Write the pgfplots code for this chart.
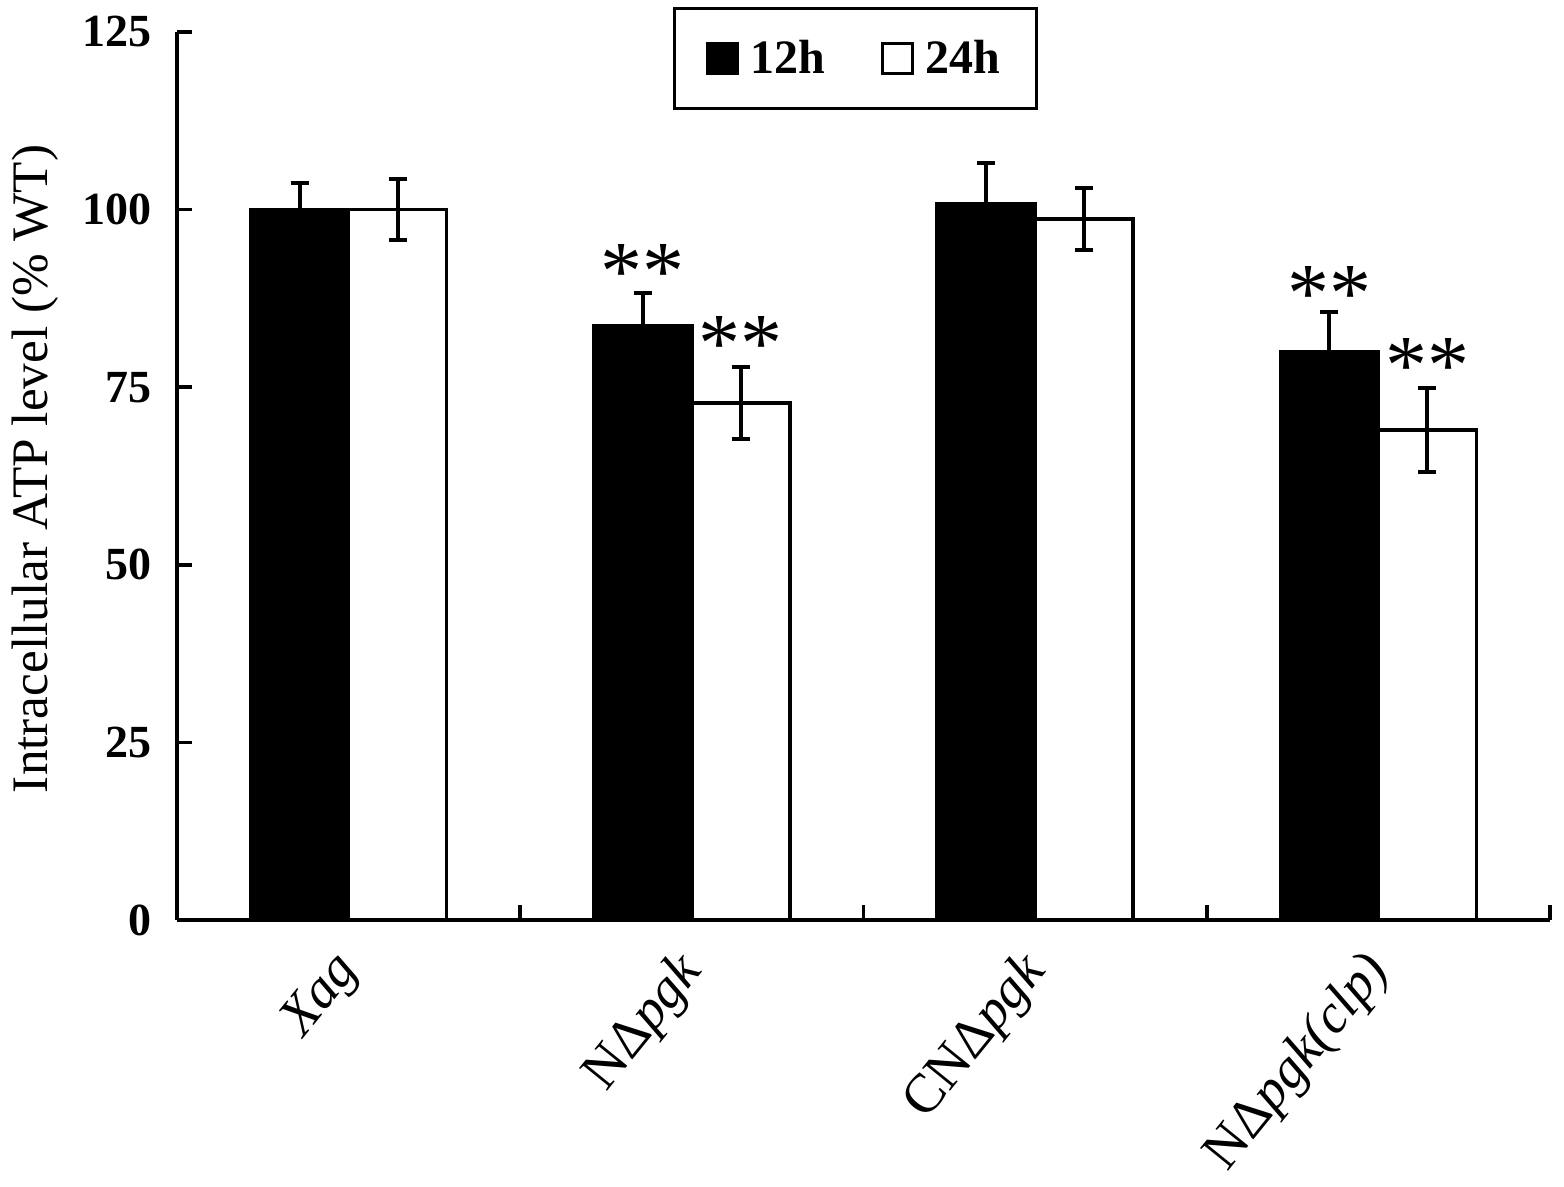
\documentclass[border=0pt]{standalone}
\usepackage{fontspec}
\setmainfont{Liberation Serif}
\usepackage{pgfplots}
\usepackage{pgfplotstable}
\pgfplotsset{compat=1.18}
\pgfplotstableread{
x y e
0.5 100 3.7
1.5 83.6 4.7
2.5 100.8 5.8
3.5 80.0 5.6
}\twelve
\pgfplotstableread{
x y e
0.5 100 4.35
1.5 72.8 5.1
2.5 98.7 4.35
3.5 69.0 5.9
}\twentyfour
\begin{document}
\begin{tikzpicture}
\path[use as bounding box] (-88.5pt,-133.5pt) rectangle (693.5pt,460pt);
\begin{axis}[
  at={(0,0)}, anchor=south west,
  scale only axis, width=686.5pt, height=444pt,
  xmin=0, xmax=4, ymin=0, ymax=125,
  axis x line*=bottom, axis y line*=left,
  axis line style={line width=1.8pt},
  ytick={0,25,50,75,100,125},
  xtick={1,2,3,4}, xticklabels={},
  extra x ticks={0.5,1.5,2.5,3.5},
  extra x tick labels={\textit{Xag}, NΔ\textit{pgk}, CNΔ\textit{pgk}, NΔ\textit{pgk(clp)}},
  extra x tick style={major tick length=0pt,
    xticklabel style={font=\fontsize{27.5}{27.5}\selectfont, rotate=51, anchor=north east, inner sep=0pt, xshift=-16pt, yshift=-1.5pt}},
  tick align=inside,
  major tick length=7.5pt,
  every tick/.style={line width=1.8pt, black},
  major x tick style={yshift=7.5pt},
  /pgf/number format/assume math mode=true,
  yticklabel style={font=\bfseries\fontsize{23}{23}\selectfont, xshift=-9pt},
  ylabel={Intracellular ATP level (\% WT)},
  ylabel style={at={(axis description cs:-0.1034,0.508)}, anchor=center, font=\fontsize{25.6}{25.6}\selectfont},
  ybar=0pt, bar width=49pt,
  legend columns=2,
  legend style={at={(axis description cs:0.494,0.970)}, anchor=center, draw=black, line width=1.5pt,
    font=\bfseries\fontsize{24}{24}\selectfont,
    /tikz/every even column/.append style={column sep=26pt},
    inner xsep=16pt, inner ysep=14pt},
  legend image code/.code={\draw[#1, line width=1.2pt] (0pt,-7.5pt) rectangle (15pt,7.5pt);},
  error bars/error bar style={line width=2pt, black},
  error bars/error mark options={rotate=90, mark size=4.5pt, line width=2pt},
]
\addplot[fill=black, draw=black, line width=1.8pt,
  error bars/.cd, y dir=both, y explicit]
  table[x=x, y=y, y error=e] {\twelve};
\addlegendentry{\hspace{4pt}12h}
\addplot[fill=white, draw=black, line width=1.8pt,
  error bars/.cd, y dir=both, y explicit]
  table[x=x, y=y, y error=e] {\twentyfour};
\addlegendentry{\hspace{4pt}24h}
\node[font=\fontsize{42}{42}\selectfont, yshift=-7pt] at ([xshift=-24.5pt]axis cs:1.5,93.2) {**};
\node[font=\fontsize{42}{42}\selectfont, yshift=-7pt] at ([xshift=24.5pt]axis cs:1.5,83.0) {**};
\node[font=\fontsize{42}{42}\selectfont, yshift=-7pt] at ([xshift=-24.5pt]axis cs:3.5,90.1) {**};
\node[font=\fontsize{42}{42}\selectfont, yshift=-7pt] at ([xshift=24.5pt]axis cs:3.5,80.0) {**};
\end{axis}
\end{tikzpicture}
\end{document}
